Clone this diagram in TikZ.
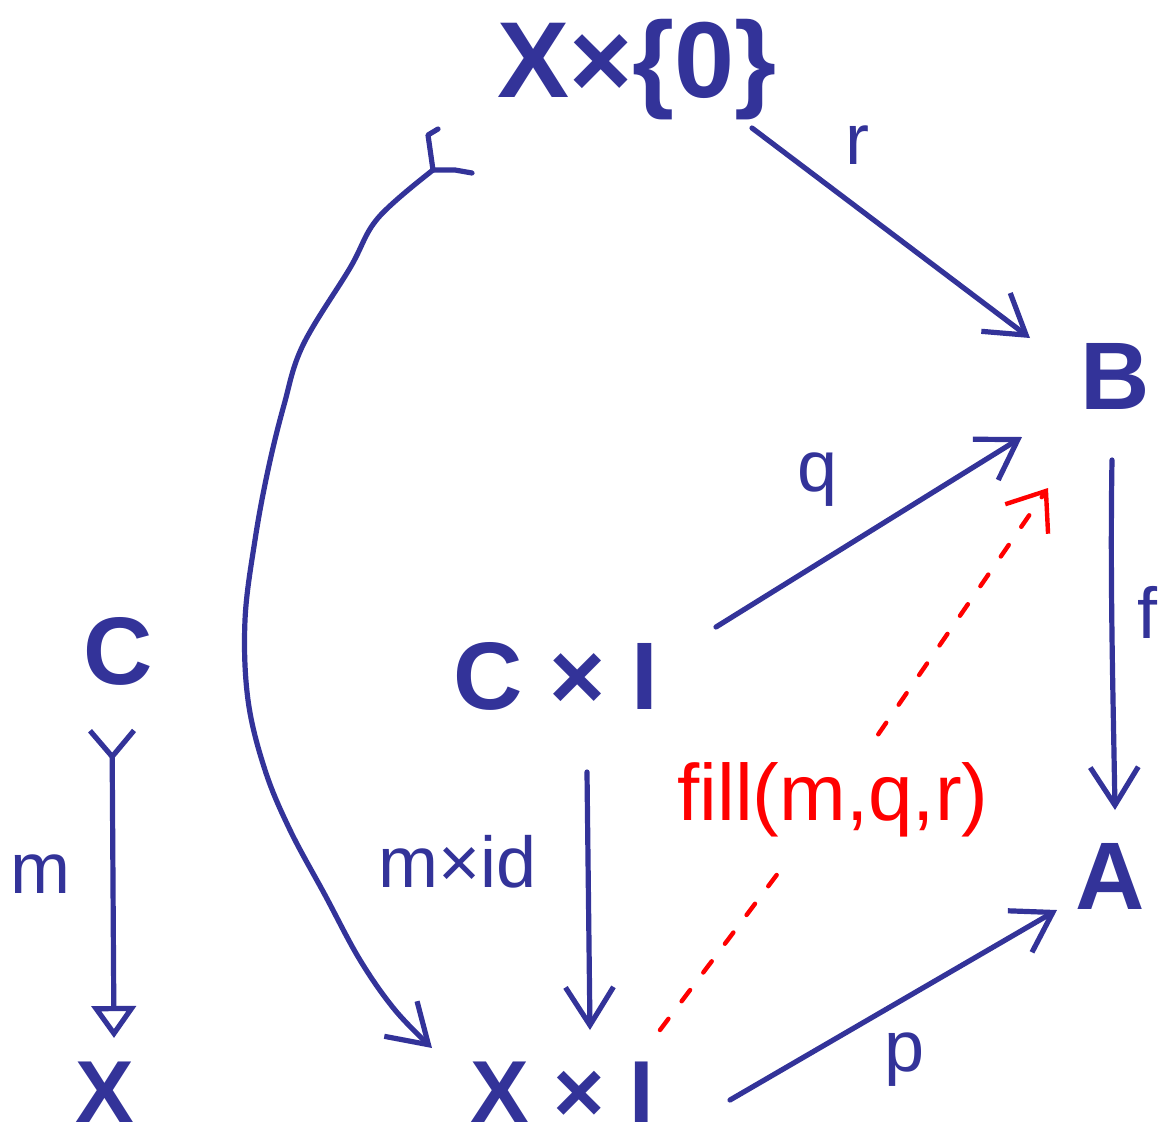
\documentclass[tikz,border=0pt]{standalone}
\usepackage{fontspec}
\setmainfont{Liberation Sans}
\usetikzlibrary{arrows.meta}
\definecolor{hblue}{RGB}{51,51,153}
\definecolor{hred}{RGB}{255,0,0}
\begin{document}
\begin{tikzpicture}[x=0.5pt,y=-0.5pt,
  obj/.style={text=hblue, font=\fontsize{48}{50}\selectfont\bfseries, inner sep=0pt},
  lab/.style={text=hblue, font=\fontsize{36}{40}\selectfont, inner sep=0pt},
  pen/.style={draw=hblue, line width=2.6pt, line cap=round, line join=round},
  arr/.style={pen, -{Straight Barb[length=19pt,width=24pt]}},
  redarr/.style={draw=hred, line width=2.2pt, line cap=round, dash pattern=on 7pt off 11pt},
]
\useasboundingbox (0,0) rectangle (1169,1142);

% objects
\node[obj, font=\fontsize{54}{56}\selectfont\bfseries] (X0) at (637,70) {X×\{0\}};
\node[obj] (B)  at (1115,376) {B};
\node[obj] (C)  at (118,651) {C};
\node[obj] (CI) at (556,676) {C × I};
\node[obj] (A)  at (1110,876) {A};
\node[obj, font=\fontsize{44}{46}\selectfont\bfseries] (X)  at (105,1092) {X};
\node[obj, font=\fontsize{44}{46}\selectfont\bfseries] (XI) at (562,1092) {X × I};

% labels
\node[lab] (lr) at (857,145) {r};
\node[lab] (lq) at (818,480) {q};
\node[lab] (lf) at (1147,612) {f};
\node[lab] (lm) at (40,874) {m};
\node[lab] (lmid) at (458,862) {m×id};
\node[lab] (lp) at (905,1060) {p};
\node[text=hred, font=\fontsize{40}{44}\selectfont, inner sep=14pt] (fill) at (833,800) {fill(m,q,r)};

% coordinates for arrow ends
\coordinate (rS) at (752,128);  \coordinate (rE) at (1030,338);
\coordinate (qS) at (716,627);  \coordinate (qE) at (1022,437);
\coordinate (fS) at (1112,460); \coordinate (fM1) at (1110,580); \coordinate (fM2) at (1113,690); \coordinate (fE) at (1115,810);
\coordinate (pS) at (730,1100); \coordinate (pE) at (1057,910);
\coordinate (iS) at (587,772);  \coordinate (iE) at (590,1030);
\coordinate (mS) at (112,728);  \coordinate (mE) at (114,1038);
\coordinate (cS) at (433,170);  \coordinate (cE) at (432,1048);
\coordinate (dS) at (660,1030); \coordinate (dE) at (1048,488);

% arrows
\draw[arr] (rS) -- (rE);
\draw[arr] (qS) -- (qE);
\draw[arr] (fS) .. controls (fM1) and (fM2) .. (fE);
\draw[arr] (pS) -- (pE);
\draw[arr] (iS) -- (iE);
\draw[pen, {Straight Barb[reversed,length=13pt,width=22pt]}-{Triangle[open,length=16pt,width=22pt]}] (mS) -- (mE);

% curved arrow with hook tail
\draw[pen] (cS) -- (428,135) -- (438,129);
\draw[pen] (cS) -- (455,170) -- (472,173);
\draw[arr] plot[smooth, tension=0.6] coordinates {(cS) (378,218) (350,268) (303,345) (284,405) (268,470) (255,540) (245,620) (248,700) (265,770) (290,830) (325,895) (360,960) (395,1010) (cE)};

% red dashed arrow
\draw[redarr] (dS) -- (fill);
\draw[redarr, -{Straight Barb[length=17pt,width=26pt]}] (fill) -- (dE);
\end{tikzpicture}
\end{document}
